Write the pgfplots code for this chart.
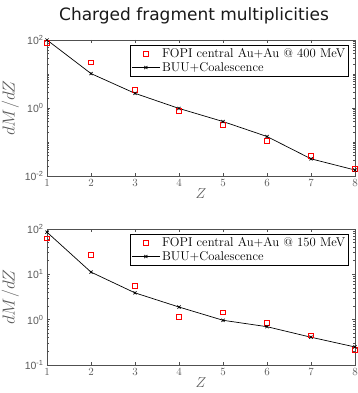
\documentclass[border=0pt]{standalone}
\usepackage{fontspec}
\usepackage{pgfplots}
\pgfplotsset{compat=1.18}
\newfontfamily\ticksf{Liberation Sans}
\newfontfamily\titlesf{DejaVu Sans}
\definecolor{axgray}{RGB}{80,80,80}
\definecolor{lblgray}{RGB}{90,90,90}
\pgfplotsset{
  myax/.style={
    scale only axis, width=308pt, height=136pt,
    xmin=1, xmax=8, xtick={1,2,3,4,5,6,7,8},
    axis line style={axgray, line width=0.6pt},
    tick style={axgray, line width=0.5pt},
    tick align=inside,
    major tick length=3pt, minor tick length=1.6pt,
    ticklabel style={font=\ticksf\fontsize{10.5}{12}\selectfont, text=lblgray},
    xlabel={$Z$}, ylabel={$dM/dZ$},
    xlabel style={font=\fontsize{14}{16}\selectfont, text=lblgray, yshift=5pt},
    ylabel style={font=\fontsize{16}{18}\selectfont, text=lblgray, yshift=-1pt},
    legend cell align=left,
    legend style={at={(1,1)}, anchor=north east, xshift=-6pt, yshift=-5pt,
      font=\fontsize{12.7}{14}\selectfont, draw=black, line width=0.5pt,
      inner sep=1.5pt, row sep=-1pt},
  },
  fopi/.style={only marks, mark=square, mark size=2.4pt, red, line width=0.7pt,
    legend image code/.code={\draw[##1] plot coordinates {(14pt,0pt)};}},
  buu/.style={black, line width=0.7pt, mark=x, mark size=2.2pt,
    legend image code/.code={\draw[##1,mark repeat=2,mark phase=2] plot coordinates {(0pt,0pt) (14pt,0pt) (28pt,0pt)};}},
}
\begin{document}
\begin{tikzpicture}
\useasboundingbox (0,0) rectangle (357pt,-393pt);
\node[font=\titlesf\fontsize{17}{20}\selectfont, text=black!90, anchor=base] at (194pt,-20.7pt) {Charged fragment multiplicities};
\begin{axis}[ymode=log, myax, at={(47pt,-176pt)}, anchor=south west,
  ymin=0.01, ymax=100, ytick={0.01,1,100},
  yticklabels={10\textsuperscript{-2},10\textsuperscript{0},10\textsuperscript{2}},
  minor ytick={0.02,0.03,0.04,0.05,0.06,0.07,0.08,0.09,0.1,0.2,0.3,0.4,0.5,0.6,0.7,0.8,0.9,2,3,4,5,6,7,8,9,10,20,30,40,50,60,70,80,90}]
\addplot[fopi] coordinates {(1,83)(2,22)(3,3.5)(4,0.83)(5,0.32)(6,0.11)(7,0.040)(8,0.016)};
\addlegendentry{FOPI central Au+Au @ 400 MeV}
\addplot[buu] coordinates {(1,100)(2,10.3)(3,2.7)(4,0.97)(5,0.40)(6,0.145)(7,0.032)(8,0.015)};
\addlegendentry{BUU+Coalescence}
\end{axis}
\begin{axis}[ymode=log, myax, at={(47pt,-365pt)}, anchor=south west,
  ymin=0.1, ymax=100, ytick={0.1,1,10,100},
  yticklabels={10\textsuperscript{-1},10\textsuperscript{0},10\textsuperscript{1},10\textsuperscript{2}},
  minor ytick={0.2,0.3,0.4,0.5,0.6,0.7,0.8,0.9,2,3,4,5,6,7,8,9,20,30,40,50,60,70,80,90}]
\addplot[fopi] coordinates {(1,62)(2,27)(3,5.5)(4,1.16)(5,1.45)(6,0.86)(7,0.45)(8,0.22)};
\addlegendentry{FOPI central Au+Au @ 150 MeV}
\addplot[buu] coordinates {(1,85)(2,11.2)(3,3.9)(4,1.9)(5,0.97)(6,0.70)(7,0.41)(8,0.25)};
\addlegendentry{BUU+Coalescence}
\end{axis}
\end{tikzpicture}
\end{document}
